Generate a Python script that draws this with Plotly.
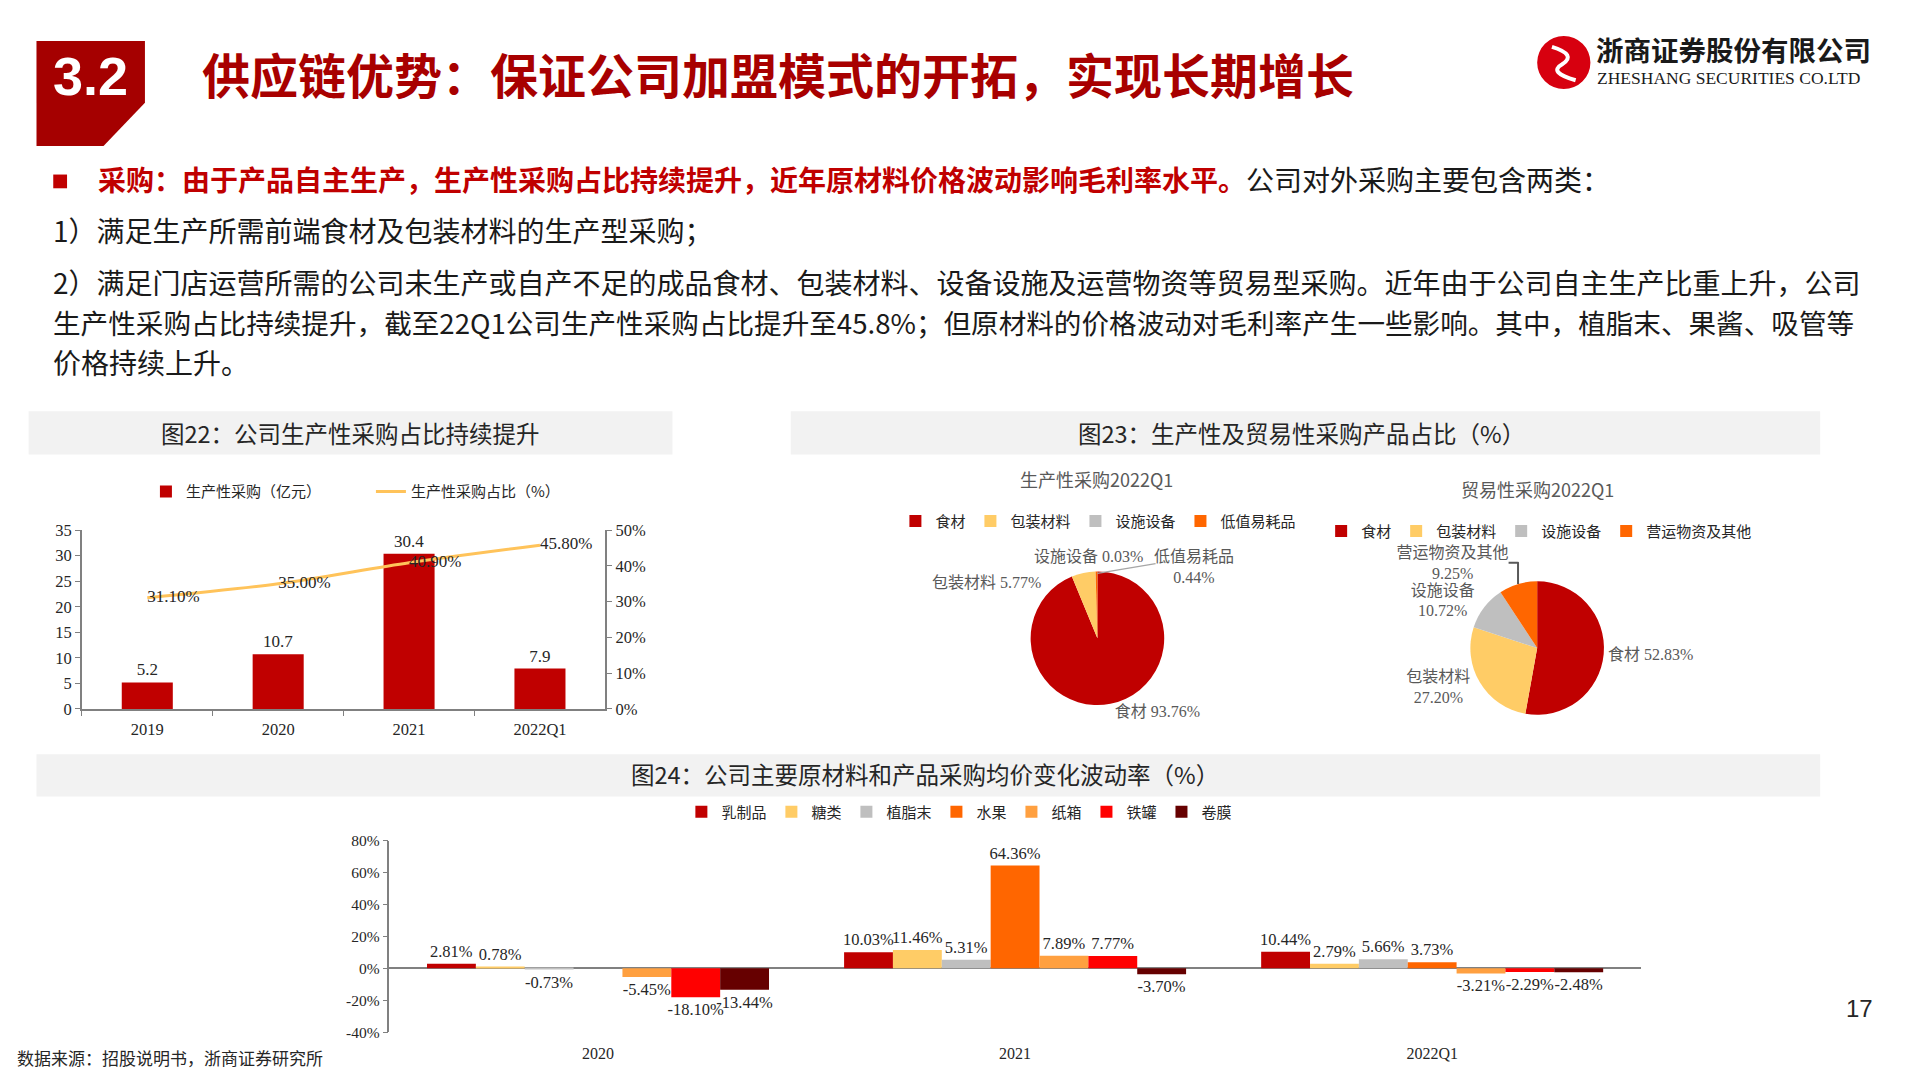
import plotly.graph_objects as go

W, H = 1920, 1080
S = 0.986      # horizontal calibration
DY = 7.5       # vertical calibration
def px(x): return x * S / W
def py(y): return 1 - (y - DY) / H

# ---------------- data ----------------
years1 = ["2019", "2020", "2021", "2022Q1"]
purchase_amt = [5.2, 10.7, 30.4, 7.9]            # 生产性采购（亿元）
purchase_share = [31.10, 35.00, 40.90, 45.80]    # 生产性采购占比（%）

pie_labels_prod = ["食材", "包装材料", "设施设备", "低值易耗品"]
pie_values_prod = [93.76, 5.77, 0.03, 0.44]
pie_labels_trade = ["食材", "包装材料", "设施设备", "营运物资及其他"]
pie_values_trade = [52.83, 27.20, 10.72, 9.25]

years3 = ["2020", "2021", "2022Q1"]
materials = ["乳制品", "糖类", "植脂末", "水果", "纸箱", "铁罐", "卷膜"]
dairy = [2.81, 10.03, 10.44]
sugar = [0.78, 11.46, 2.79]
creamer = [-0.73, 5.31, 5.66]
fruit = [None, 64.36, 3.73]
carton = [-5.45, 7.89, -3.21]
tin_can = [-18.10, 7.77, -2.29]
film = [-13.44, -3.70, -2.48]
material_series = [dairy, sugar, creamer, fruit, carton, tin_can, film]

y1_ticks = [0, 5, 10, 15, 20, 25, 30, 35]
y2_ticks = [0, 10, 20, 30, 40, 50]
y3_ticks = [-40, -20, 0, 20, 40, 60, 80]

# ---------------- styles ----------------
RED = "#C00000"
mat_colors = ["#C00000", "#FFCC66", "#BFBFBF", "#FF6600", "#FFA040", "#FF0000", "#660000"]
pie_colors = ["#C00000", "#FFCC66", "#BFBFBF", "#FF6600"]
CJK = "Noto Sans CJK SC"
SERIF = "Liberation Serif, Noto Sans CJK SC"
AX = "#808080"

fig = go.Figure()

# ---- chart 1: bars + line ----
fig.add_trace(go.Bar(
    x=years1, y=purchase_amt, name="生产性采购（亿元）", width=0.39,
    marker=dict(color=RED, line=dict(width=0)),
    text=[f"{v:.1f}" for v in purchase_amt], textposition="outside",
    textfont=dict(family=SERIF, size=17, color="#262626"), constraintext="none",
    cliponaxis=False, xaxis="x", yaxis="y", legend="legend", hoverinfo="skip"))
fig.add_trace(go.Scatter(
    x=years1, y=purchase_share, name="生产性采购占比（%）", mode="lines",
    line=dict(color="#FFC35A", width=3, shape="spline", smoothing=0.8),
    xaxis="x", yaxis="y2", legend="legend", hoverinfo="skip"))
fig.add_trace(go.Scatter(
    x=years1, y=purchase_share, mode="text", showlegend=False,
    text=[f"{v:.2f}%" for v in purchase_share], textposition="middle right",
    textfont=dict(family=SERIF, size=17, color="#262626"), cliponaxis=False,
    xaxis="x", yaxis="y2", hoverinfo="skip"))

# ---- pies ----
fig.add_trace(go.Pie(
    labels=pie_labels_prod, values=pie_values_prod, sort=False, direction="clockwise",
    rotation=0, domain=dict(x=[px(1045), px(1181)], y=[py(716), py(580)]),
    marker=dict(colors=pie_colors, line=dict(width=0)),
    textposition="outside",
    texttemplate=["%{label} %{value:.2f}%", "", "", ""],
    outsidetextfont=dict(family=SERIF, size=16, color="#595959"),
    legend="legend2", hoverinfo="skip", automargin=False))
fig.add_trace(go.Pie(
    labels=[l + "\u200b" for l in pie_labels_trade], values=pie_values_trade,
    sort=False, direction="clockwise",
    rotation=0, domain=dict(x=[px(1491), px(1627)], y=[py(726), py(590)]),
    marker=dict(colors=pie_colors, line=dict(width=0)),
    textposition="outside",
    texttemplate=["%{label} %{value:.2f}%", "%{label}<br>%{value:.2f}%",
                  "%{label}<br>%{value:.2f}%", "%{label}<br>%{value:.2f}%"],
    outsidetextfont=dict(family=SERIF, size=16, color="#595959"),
    legend="legend3", hoverinfo="skip", automargin=False))

# ---- chart 3: grouped bars ----
for name, vals, col in zip(materials, material_series, mat_colors):
    fig.add_trace(go.Bar(
        x=years3, y=vals, name=name, marker=dict(color=col, line=dict(width=0)),
        text=["" if v is None else f"{v:.2f}%" for v in vals], textposition="outside",
        textfont=dict(family=SERIF, size=16.5, color="#262626"), constraintext="none",
        cliponaxis=False, xaxis="x2", yaxis="y3", legend="legend4", hoverinfo="skip"))

tf1 = dict(family=SERIF, size=16.5, color="#262626")
tf3 = dict(family=SERIF, size=16, color="#262626")
legfont = dict(family=CJK, size=15, color="#262626")
fig.update_layout(
    width=W, height=H, autosize=False, margin=dict(l=0, r=0, t=0, b=0),
    paper_bgcolor="white", plot_bgcolor="rgba(0,0,0,0)",
    barmode="group", bargap=0.18, bargroupgap=0,
    xaxis=dict(domain=[px(83), px(614)], anchor="y", type="category",
               showline=True, linecolor=AX, linewidth=1.5, ticks="outside",
               tickson="boundaries", ticklen=5, tickcolor=AX, tickfont=tf1,
               ticklabelstandoff=4, showgrid=False, fixedrange=True),
    yaxis=dict(domain=[py(720), py(538)], anchor="x", range=[0, 35],
               tickvals=y1_ticks, showline=True, linecolor=AX, linewidth=1.5,
               ticks="outside", ticklen=5, tickcolor=AX, tickfont=tf1,
               showgrid=False, zeroline=False, fixedrange=True),
    yaxis2=dict(overlaying="y", anchor="x", side="right", range=[0, 50],
                tickvals=y2_ticks, ticktext=[f"{v}%" for v in y2_ticks],
                showline=True, linecolor=AX, linewidth=1.5, ticks="outside",
                ticklen=5, tickcolor=AX, tickfont=tf1, showgrid=False,
                zeroline=False, fixedrange=True),
    xaxis2=dict(domain=[px(395), px(1664)], anchor="y3", type="category",
                showline=False, ticks="", tickfont=tf3, ticklabelstandoff=10,
                showgrid=False, fixedrange=True),
    yaxis3=dict(domain=[py(1049), py(854)], anchor="x2", range=[-40, 80],
                tickvals=y3_ticks, ticktext=[f"{v}%" for v in y3_ticks],
                showline=True, linecolor=AX, linewidth=1.5, ticks="outside",
                ticklen=5, tickcolor=AX, tickfont=dict(family=SERIF, size=15.5, color="#262626"),
                showgrid=False, zeroline=True, zerolinecolor=AX, zerolinewidth=1.5,
                fixedrange=True),
    legend=dict(x=px(148), xanchor="left", y=py(499), yanchor="middle",
                orientation="h", font=legfont, bgcolor="rgba(0,0,0,0)",
                itemwidth=30, entrywidth=180),
    legend2=dict(x=px(1114), xanchor="center", y=py(529), yanchor="middle",
                 orientation="h", font=legfont, bgcolor="rgba(0,0,0,0)", itemwidth=30),
    legend3=dict(x=px(1561), xanchor="center", y=py(539), yanchor="middle",
                 orientation="h", font=legfont, bgcolor="rgba(0,0,0,0)", itemwidth=30),
    legend4=dict(x=px(973), xanchor="center", y=py(825), yanchor="middle",
                 orientation="h", font=legfont, bgcolor="rgba(0,0,0,0)", itemwidth=30),
)

# ---------------- decorations ----------------
def ppath(points):
    return "M " + " L ".join(f"{px(x):.5f},{py(y):.5f}" for x, y in points) + " Z"

shapes = []
shapes.append(dict(type="path", xref="paper", yref="paper", line=dict(width=0),
                   fillcolor="#A50000",
                   path=ppath([(37, 40), (147, 40), (147, 103), (105, 147), (37, 147)])))
shapes.append(dict(type="rect", xref="paper", yref="paper", line=dict(width=0),
                   fillcolor=RED, x0=px(54), x1=px(68), y0=py(190), y1=py(176)))
for (x0, x1, y0, y1) in [(29, 682, 417, 461), (802, 1846, 417, 461), (37, 1846, 766, 809)]:
    shapes.append(dict(type="rect", xref="paper", yref="paper", line=dict(width=0),
                       fillcolor="#F2F2F2", x0=px(x0), x1=px(x1), y0=py(y1), y1=py(y0),
                       layer="below"))
# pie leader line for the tiny slices
shapes.append(dict(type="line", xref="paper", yref="paper",
                   line=dict(color="#A6A6A6", width=1.2),
                   x0=px(1113), y0=py(582), x1=px(1172), y1=py(572)))
# logo
shapes.append(dict(type="circle", xref="paper", yref="paper", line=dict(width=0),
                   fillcolor="#D7000F", x0=px(1559), x1=px(1613), y0=py(89), y1=py(35)))
shapes.append(dict(type="path", xref="paper", yref="paper",
                   line=dict(color="white", width=4), fillcolor="rgba(0,0,0,0)",
                   path=f"M {px(1574):.5f},{py(46):.5f} Q {px(1600):.5f},{py(54):.5f} {px(1584):.5f},{py(64):.5f} Q {px(1570):.5f},{py(72):.5f} {px(1598):.5f},{py(80):.5f}"))
fig.update_layout(shapes=shapes)

ann = []
def add_text(x, y, text, size, color="#1a1a1a", family=CJK, xanchor="left", yanchor="middle", align="left"):
    ann.append(dict(x=px(x), y=py(y), xref="paper", yref="paper", text=text,
                    showarrow=False, xanchor=xanchor, yanchor=yanchor, align=align,
                    font=dict(family=family, size=size, color=color)))

add_text(92, 75.5, "<b>3.2</b>", 54, color="white", family="Liberation Sans, Arial", xanchor="center")
add_text(203, 72.5, "<b>供应链优势：保证公司加盟模式的开拓，实现长期增长</b>", 48, color="#A80000")
add_text(1617, 48.5, "<b>浙商证券股份有限公司</b>", 27.5, color="#1a1a1a")
add_text(1618, 78, "ZHESHANG SECURITIES CO.LTD", 17.5, color="#1a1a1a", family="Liberation Serif")

add_text(97, 180.5, "<b><span style='color:#C00000'>采购：由于产品自主生产，生产性采购占比持续提升，近年原材料价格波动影响毛利率水平。</span></b>公司对外采购主要包含两类：", 28)
add_text(52, 232.5, "1）满足生产所需前端食材及包装材料的生产型采购；", 28)
add_text(52, 285.5, "2）满足门店运营所需的公司未生产或自产不足的成品食材、包装材料、设备设施及运营物资等贸易型采购。近年由于公司自主生产比重上升，公司", 28)
add_text(52, 326.5, "生产性采购占比持续提升，截至22Q1公司生产性采购占比提升至45.8%；但原材料的价格波动对毛利率产生一些影响。其中，植脂末、果酱、吸管等", 27.6)
add_text(52, 366.5, "价格持续上升。", 28)

add_text(355, 439, "图22：公司生产性采购占比持续提升", 23.5, color="#262626", xanchor="center")
add_text(1320, 439, "图23：生产性及贸易性采购产品占比（%）", 23.5, color="#262626", xanchor="center")
add_text(938, 786, "图24：公司主要原材料和产品采购均价变化波动率（%）", 23.5, color="#262626", xanchor="center")

add_text(1112, 486, "生产性采购2022Q1", 18, color="#595959", xanchor="center")
add_text(1559, 496, "贸易性采购2022Q1", 18, color="#595959", xanchor="center")

# labels of the small slices of the first pie
add_text(1001, 591, f"{pie_labels_prod[1]} {pie_values_prod[1]:.2f}%", 16, color="#595959",
         family=SERIF, xanchor="center")
add_text(1104, 565, f"{pie_labels_prod[2]} {pie_values_prod[2]:.2f}%", 16, color="#595959",
         family=SERIF, xanchor="center")
add_text(1211, 575, f"{pie_labels_prod[3]}<br>{pie_values_prod[3]:.2f}%", 16, color="#595959",
         family=SERIF, xanchor="center", align="center")

add_text(15, 1074.5, "数据来源：招股说明书，浙商证券研究所", 17, color="#262626")
add_text(1886, 1025, "17", 24, color="#262626", family="Liberation Sans, Arial", xanchor="center")
fig.update_layout(annotations=ann)

fig.write_html("out.html", config={"displayModeBar": False},
               post_script="document.body.style.margin='0';document.body.style.overflow='hidden';")
